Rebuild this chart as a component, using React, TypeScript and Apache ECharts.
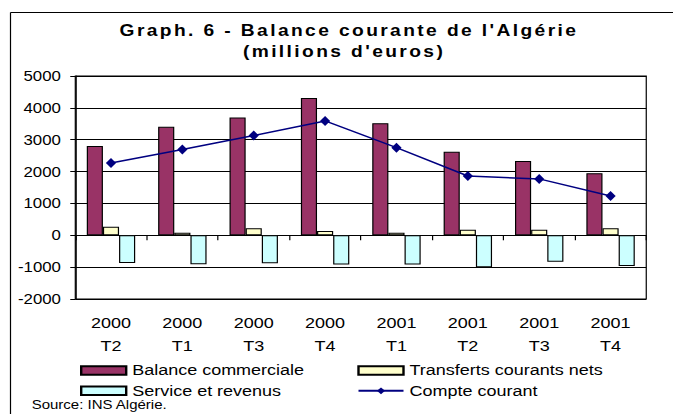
import React, { useEffect, useRef } from "react";
import * as echarts from "echarts";

const years = ["2000", "2000", "2000", "2000", "2001", "2001", "2001", "2001"];
const quarters = ["T2", "T1", "T3", "T4", "T1", "T2", "T3", "T4"];
const balanceCommerciale = [2800, 3410, 3700, 4310, 3520, 2620, 2330, 1950];
const transfertsCourants = [270, 80, 220, 135, 80, 175, 170, 220];
const serviceRevenus = [-870, -910, -880, -920, -920, -1000, -830, -965];
const compteCourant = [2270, 2690, 3130, 3590, 2750, 1860, 1770, 1235];
const yTicks = { min: -2000, max: 5000, interval: 1000 };

const S = 1.2; // horizontal stretch of the original picture
const W = 673 / S;
const FONT = '"Liberation Sans", Arial, sans-serif';

export default function App() {
  const ref = useRef<HTMLDivElement>(null);

  useEffect(() => {
    if (!ref.current) return;
    const chart = echarts.init(ref.current, undefined, { renderer: "svg" });
    const categories = years.map((y, i) => y + "\n" + quarters[i]);
    const barBase = {
      type: "bar" as const,
      xAxisIndex: 0,
      barWidth: 13.45,
      barGap: "0%",
    };
    const legendBase = {
      orient: "vertical" as const,
      top: 363,
      padding: 0,
      itemWidth: 45 / S,
      itemHeight: 8.5,
      itemGap: 5.3,
      selectedMode: false,
      textStyle: { color: "#000", fontSize: 15, lineHeight: 14, fontFamily: FONT },
    };
    chart.setOption({
      animation: false,
      backgroundColor: "#fff",
      grid: {
        left: 62.75,
        top: 76,
        width: 475.8,
        height: 223,
        show: true,
        borderColor: "#000",
        borderWidth: 1,
        backgroundColor: "transparent",
      },
      xAxis: [
        {
          type: "category",
          data: categories,
          position: "bottom",
          axisLine: { show: true, onZero: true, lineStyle: { color: "#000", width: 1 } },
          axisTick: { show: true, length: 5, lineStyle: { color: "#000" } },
          axisLabel: { show: false },
          splitLine: { show: false },
        },
        {
          type: "category",
          data: categories,
          position: "bottom",
          axisLine: { show: false, onZero: false },
          axisTick: { show: false },
          splitLine: { show: false },
          axisLabel: {
            show: true,
            margin: 12.4,
            color: "#000",
            fontSize: 15,
            lineHeight: 23.4,
            fontFamily: FONT,
          },
        },
      ],
      yAxis: {
        type: "value",
        min: yTicks.min,
        max: yTicks.max,
        interval: yTicks.interval,
        axisLine: { show: true, lineStyle: { color: "#000" } },
        axisTick: { show: true, length: 4.2, lineStyle: { color: "#000" } },
        axisLabel: {
          color: "#000",
          fontSize: 14,
          margin: 12,
          fontFamily: FONT,
          formatter: (v: number) => String(v),
        },
        splitLine: { show: true, lineStyle: { color: "#000", width: 1 } },
      },
      legend: [
        {
          ...legendBase,
          left: 80 / S,
          data: [
            { name: "Balance commerciale", icon: "rect" },
            { name: "Service et revenus", icon: "rect" },
          ],
        },
        {
          ...legendBase,
          left: 357.3 / S,
          data: [{ name: "Transferts courants nets", icon: "rect" }, { name: "Compte courant" }],
        },
      ],
      graphic: [
        {
          type: "line",
          shape: { x1: 8.75, y1: 12.5, x2: 8.75, y2: 414 },
          style: { stroke: "#000", lineWidth: 1 },
          silent: true,
        },
        {
          type: "line",
          shape: { x1: 8.75, y1: 12.5, x2: W, y2: 12.5 },
          style: { stroke: "#000", lineWidth: 1 },
          silent: true,
        },
        {
          type: "text",
          x: 290.8,
          y: 31,
          style: {
            text: "Graph. 6 - Balance courante de l'Algérie",
            fontSize: 16,
            fontWeight: "bold",
            fontFamily: FONT,
            fill: "#000",
            textAlign: "center",
            textVerticalAlign: "middle",
          },
        },
        {
          type: "text",
          x: 286.7,
          y: 52,
          style: {
            text: "(millions d'euros)",
            fontSize: 16,
            fontWeight: "bold",
            fontFamily: FONT,
            fill: "#000",
            textAlign: "center",
            textVerticalAlign: "middle",
          },
        },
        {
          type: "text",
          x: 26.4,
          y: 405,
          style: {
            text: "Source: INS Algérie.",
            fontSize: 12.5,
            fontFamily: FONT,
            fill: "#000",
            textAlign: "left",
            textVerticalAlign: "middle",
          },
        },
      ],
      series: [
        {
          ...barBase,
          name: "Balance commerciale",
          data: balanceCommerciale,
          itemStyle: { color: "#993366", borderColor: "#000", borderWidth: 1 },
        },
        {
          ...barBase,
          name: "Transferts courants nets",
          data: transfertsCourants,
          itemStyle: { color: "#FFFFCC", borderColor: "#000", borderWidth: 1 },
        },
        {
          ...barBase,
          name: "Service et revenus",
          data: serviceRevenus,
          itemStyle: { color: "#CCFFFF", borderColor: "#000", borderWidth: 1 },
        },
        {
          type: "line",
          name: "Compte courant",
          xAxisIndex: 0,
          data: compteCourant,
          symbol: "diamond",
          symbolSize: [8.5, 10],
          lineStyle: { color: "#000080", width: 1.5 },
          itemStyle: { color: "#000080" },
          z: 5,
        },
      ],
    });

    const applySpacing = () => {
      const el = ref.current;
      if (!el) return;
      el.querySelectorAll("text").forEach((t) => {
        const s = t.textContent || "";
        if (s.startsWith("Graph.") || s.startsWith("(millions")) {
          t.setAttribute("letter-spacing", "2");
        }
      });
    };
    applySpacing();
    chart.on("finished", applySpacing);
    const raf = requestAnimationFrame(applySpacing);

    return () => {
      cancelAnimationFrame(raf);
      chart.dispose();
    };
  }, []);

  return (
    <div
      ref={ref}
      style={{
        position: "fixed",
        left: 0,
        top: 0,
        width: W,
        height: 414,
        overflow: "hidden",
        transform: `scaleX(${S})`,
        transformOrigin: "0 0",
        background: "#fff",
      }}
    />
  );
}
